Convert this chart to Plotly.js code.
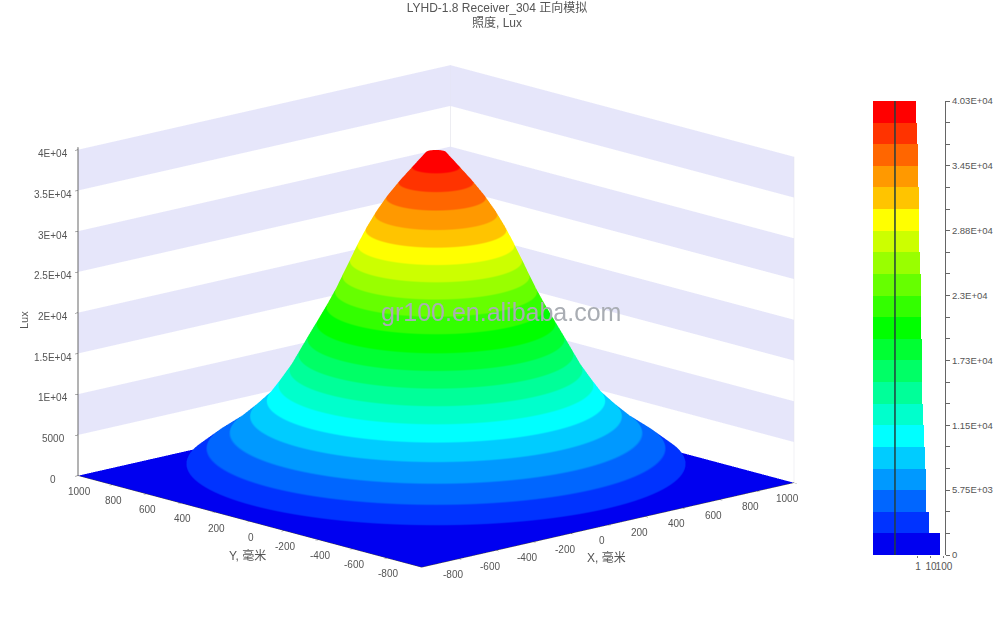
<!DOCTYPE html>
<html>
<head>
<meta charset="utf-8">
<script src="https://cdn.plot.ly/plotly-3.0.1.min.js"></script>
<style>html,body{margin:0;padding:0;background:#fff}#c{width:1000px;height:624px}</style>
</head>
<body>
<div id="c"></div>
<script>
var radiusMm = [0,40,90,145,195,238,275,308,338,368,398,432,468,505,541,577,621,668,735,810,903,985,1000];
var luxAtRadius = [40300,40100,38380,36460,34540,32620,30700,28780,26860,24940,23020,21100,19190,17270,15350,13430,11510,9595,7680,5755,3840,1919,350];
// legend bands, top to bottom
var bandColors = ['#ff0000','#ff3300','#ff6600','#ff9900','#ffc400','#ffff00','#ccff00','#99ff00','#66ff00','#33ff00','#00ff00','#00ff33','#00ff66','#00ff99','#00ffcc','#00ffff','#00ccff','#0099ff','#0066ff','#0033ff','#0000f0'];
var bandCounts = [0.7,0.84,1,1,1.2,1.2,1.3,1.4,1.7,1.7,1.8,2,2,2.2,2.4,2.9,3.5,4.1,4.1,7,50];
var bandLux = 40300/21;
var legendTickLabels = ['4.03E+04','3.45E+04','2.88E+04','2.3E+04','1.73E+04','1.15E+04','5.75E+03','0'];
var zTickVals = [0,5000,10000,15000,20000,25000,30000,35000,40000];
var zTickText = ['0','5000','1E+04','1.5E+04','2E+04','2.5E+04','3E+04','3.5E+04','4E+04'];
var planTicks = [-800,-600,-400,-200,0,200,400,600,800,1000];
var wallBands = [[5000,10000],[15000,20000],[25000,30000],[35000,40000]];
var wallColor = '#e6e6fa';
var gray = '#555555';
var fontFam = '"Liberation Sans","Noto Sans CJK SC",Arial,sans-serif';

var steps = 144, xs = [], ys = [], zs = [];
radiusMm.forEach(function(r,i){
  var a=[],b=[],c=[];
  for (var j=0;j<=steps;j++){
    var t=2*Math.PI*j/steps;
    a.push(r*Math.cos(t)); b.push(r*Math.sin(t)); c.push(luxAtRadius[i]);
  }
  xs.push(a); ys.push(b); zs.push(c);
});

var ascending = bandColors.slice().reverse(), scale = [];
ascending.forEach(function(c,k){ scale.push([k/21,c]); scale.push([(k+1)/21,c]); });
var flat = {ambient:1,diffuse:0,specular:0,roughness:1,fresnel:0};

var traces = [];
traces.push({type:'surface',x:[[-1000,1000],[-1000,1000]],y:[[-1000,-1000],[1000,1000]],z:[[0,0],[0,0]],
  surfacecolor:[[0,0],[0,0]],cmin:0,cmax:40300,colorscale:scale,showscale:false,lighting:flat,hoverinfo:'skip'});
traces.push({type:'surface',x:xs,y:ys,z:zs,cmin:0,cmax:40300,colorscale:scale,showscale:false,lighting:flat,hoverinfo:'skip'});
wallBands.forEach(function(b){
  traces.push({type:'mesh3d',x:[1000,1000,1000,1000],y:[-1000,1000,1000,-1000],z:[b[0],b[0],b[1],b[1]],i:[0,0],j:[1,2],k:[2,3],color:wallColor,lighting:flat,hoverinfo:'skip'});
  traces.push({type:'mesh3d',x:[-1000,1000,1000,-1000],y:[1000,1000,1000,1000],z:[b[0],b[0],b[1],b[1]],i:[0,0],j:[1,2],k:[2,3],color:wallColor,lighting:flat,hoverinfo:'skip'});
});
// faint wall edges
traces.push({type:'scatter3d',mode:'lines',x:[1000,1000],y:[1000,1000],z:[0,40000],line:{color:'#dcdce6',width:1},hoverinfo:'skip'});
traces.push({type:'scatter3d',mode:'lines',x:[1000,1000],y:[-1000,-1000],z:[0,40000],line:{color:'#e4e4ec',width:1},hoverinfo:'skip'});

var centers = bandColors.map(function(c,i){ return 40300-(i+0.5)*bandLux; });
traces.push({type:'bar',orientation:'h',x:bandCounts,y:centers,width:bandLux,marker:{color:bandColors,line:{width:0}},xaxis:'x',yaxis:'y',hoverinfo:'skip'});
traces.push({type:'scatter',mode:'lines',x:[0.017,0.017],y:[0,40300],line:{color:'#23403f',width:1.5},xaxis:'x',yaxis:'y',hoverinfo:'skip'});

var legendTicks = [], legendText = [];
for (var i=0;i<=21;i++){ legendTicks.push(i*bandLux); legendText.push(''); }
legendTickLabels.forEach(function(t,i){ legendText[21-i*3]=t; });

function planAxis(){
  return {title:{text:''},range:[-1000,1000],tickvals:planTicks,showticklabels:false,showgrid:false,zeroline:false,showbackground:false,showline:true,linecolor:'#444',ticks:'outside',ticklen:4,tickcolor:'#444',showspikes:false};
}
function note(text,px,py,angle,size,color){
  return {xref:'paper',yref:'paper',x:px/1000,y:1-py/624,xanchor:'center',yanchor:'middle',showarrow:false,text:text,textangle:angle,font:{size:size,color:color,family:fontFam}};
}
function sceneLabel(text,x,y,z,dx,dy){
  return {x:x,y:y,z:z,text:text,showarrow:false,xanchor:'center',yanchor:'middle',xshift:dx,yshift:dy,font:{size:10,color:gray,family:fontFam}};
}
var sceneLabels = [];
planTicks.forEach(function(t){
  sceneLabels.push(sceneLabel(String(t),t,-1000,0,-6,-16));
  sceneLabels.push(sceneLabel(String(t),-1000,t,0,1,-16));
});
zTickVals.forEach(function(v,i){
  sceneLabels.push(sceneLabel(zTickText[i],-1000,1000,v,-25,-4));
});
var layout = {
  width:1000,height:624,margin:{l:0,r:0,t:0,b:0},paper_bgcolor:'#fff',plot_bgcolor:'#fff',showlegend:false,barmode:'overlay',bargap:0,
  title:{text:'LYHD-1.8 Receiver_304 正向模拟<br>照度, Lux',font:{size:12,color:gray,family:fontFam},x:0.497,xanchor:'center',y:0.981,yanchor:'top'},
  scene:{
    domain:{x:[0.004,0.868],y:[0.002,0.989]},
    aspectmode:'manual',aspectratio:{x:1.645,y:1.645,z:1.1},
    camera:{eye:{x:-1.314,y:-1.424,z:0.492},up:{x:0,y:0,z:1},center:{x:0,y:0,z:0},projection:{type:'orthographic'}},
    xaxis:planAxis(),yaxis:planAxis(),
    zaxis:{title:{text:''},range:[0,40300],tickvals:zTickVals,showticklabels:false,showgrid:false,zeroline:false,showbackground:false,showline:true,linecolor:'#666',linewidth:2,ticks:'outside',ticklen:4,tickcolor:'#555',showspikes:false},
    annotations:sceneLabels
  },
  xaxis:{domain:[0.873,0.945],type:'log',range:[-3.46,2.08],tickvals:[1,10,100],ticktext:['1','10','100'],tickangle:0,ticks:'outside',ticklen:2,tickcolor:'#777',showgrid:false,zeroline:false,showline:false,tickfont:{size:10,color:gray,family:fontFam},anchor:'y'},
  yaxis:{domain:[1-555/624,1-101/624],range:[0,40300],side:'right',anchor:'x',tickvals:legendTicks,ticktext:legendText,ticks:'outside',ticklen:4,tickcolor:'#666',showgrid:false,zeroline:false,showline:true,linecolor:'#666',tickfont:{size:9.5,color:gray,family:fontFam}},
  annotations:[
    note('gr100.en.alibaba.com',501,312,0,25,'#a9adb3'),
    note('Y, 毫米',247,555,0,12,gray),
    note('X, 毫米',606,557,0,12,gray),
    note('Lux',24,320,-90,11,gray)
  ]
};
Plotly.newPlot('c',traces,layout,{displayModeBar:false});
</script>
</body>
</html>
